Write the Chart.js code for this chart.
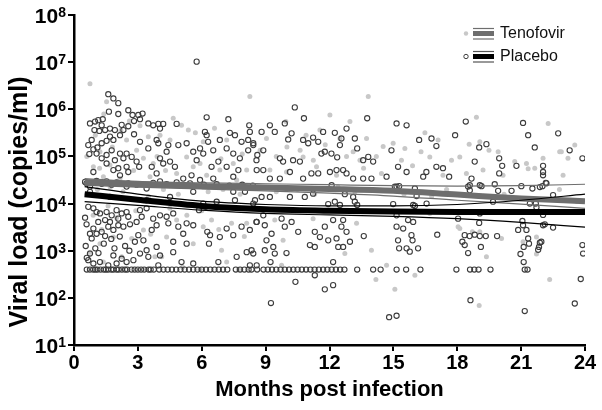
<!DOCTYPE html>
<html>
<head>
<meta charset="utf-8">
<script src="https://cdn.jsdelivr.net/npm/chart.js@4.4.1/dist/chart.umd.min.js"></script>
<style>
  html, body { margin: 0; padding: 0; background: #fff; }
  #wrap { width: 602px; height: 410px; }
</style>
</head>
<body>
<div id="wrap"><canvas id="myChart" width="602" height="410"></canvas></div>
<script>
// months post infection, log10 viral load (copies/ml)
const placeboMonths = [
  1.61,1.85,2.08,1.64,2.08,2.55,2.75,3.02,3.22,3.10,2.82,2.55,0.75,0.99,1.14,1.35,1.30,0.96,1.19,1.46,
  1.69,1.92,2.24,2.32,2.16,2.82,3.49,3.72,3.96,4.19,4.04,4.82,6.23,6.15,6.23,7.25,7.56,7.32,8.23,8.26,
  5.76,0.67,0.83,0.72,0.91,1.10,1.30,1.53,1.69,1.85,1.06,1.30,1.53,1.77,1.53,1.92,2.16,2.32,2.47,2.71,
  2.94,3.06,2.47,2.08,1.85,2.16,2.55,3.10,3.49,3.96,3.88,4.43,4.35,4.04,4.19,4.51,4.74,3.65,3.88,4.90,
  5.29,5.60,5.92,6.07,5.76,6.30,6.54,6.85,7.17,6.78,6.46,7.48,7.79,8.18,8.42,8.61,7.87,8.18,7.17,7.72,
  8.58,5.13,5.52,5.92,6.54,7.48,5.60,7.48,8.03,7.56,8.50,0.91,0.52,0.75,2.47,3.41,
  0.59,1.06,1.30,1.53,1.77,2.00,2.55,2.94,3.72,4.04,4.35,4.82,5.45,6.10,6.70,7.30,7.90,8.40,
  0.75,1.69,3.41,4.51,6.07,6.70,
  0.67,0.91,1.06,0.52,0.59,1.22,1.53,1.77,2.00,2.24,2.47,2.55,2.08,1.69,1.46,1.14,0.91,0.75,0.83,1.06,
  1.30,1.46,1.61,1.85,2.08,2.32,2.63,2.94,3.18,3.10,3.41,3.72,3.88,3.65,4.04,4.35,4.43,4.66,4.90,5.29,
  5.60,5.87,6.18,6.26,6.34,6.85,7.17,7.48,7.87,8.26,8.58,8.11,8.42,8.58,8.26,3.26,3.02,2.86,3.41,3.49,
  3.10,2.79,2.47,2.24,2.00,1.85,1.61,1.22,0.91,0.67,0.75,4.66,5.05,5.60,3.96,4.66,5.29,4.04,3.88,6.78,
  7.64,6.39,5.13,0.55,1.00,1.40,1.75,2.15,2.60,0.60,1.15,2.40,1.90,
  0.60,0.75,0.90,1.00,1.10,1.25,1.40,1.50,1.60,1.75,1.85,2.00,2.10,2.25,2.40,2.50,2.70,2.85,3.00,3.15,
  3.30,3.50,3.60,3.75,4.00,4.20,4.40,4.60,4.80,5.00,5.20,5.40,5.60,5.80,6.00,6.20,6.40,6.60,6.80,7.00,
  7.20,7.60,7.80,8.00,8.20,8.34,8.60,8.90,9.10,9.30,9.50,9.70,9.90,10.10,10.30,10.50,10.70,10.90,11.10,11.30,
  11.50,11.70,11.90,12.10,12.30,12.50,12.70,13.30,14.05,14.40,15.15,15.60,16.27,17.96,18.60,18.80,19.00,19.56,21.17,21.30,
  10.37,10.80,13.77,15.15,15.62,18.40,21.09,22.74,8.81,9.20,9.43,9.90,10.06,10.22,10.76,11.00,11.23,11.47,11.70,12.25,
  12.80,12.56,13.19,13.30,12.49,11.78,11.62,12.09,12.36,12.02,12.33,12.64,12.80,13.11,13.58,13.82,14.05,13.58,13.97,14.68,
  14.91,15.22,15.62,16.21,16.40,16.55,16.79,17.02,17.02,17.33,17.62,17.90,18.67,18.82,19.03,19.37,19.76,19.97,19.97,20.11,
  20.78,21.01,21.33,21.64,22.03,22.03,22.03,22.00,22.19,22.50,23.28,23.88,8.42,8.89,8.57,8.89,9.67,9.82,10.14,10.29,
  10.61,10.76,11.15,11.47,9.20,9.67,8.81,9.20,10.14,10.84,11.23,15.15,16.01,18.51,19.06,19.68,20.55,21.53,21.69,
  12.10,15.07,15.27,16.09,12.72,13.11,13.19,13.30,14.99,16.01,16.56,12.25,12.49,11.94,
  8.42,8.89,8.57,8.96,9.04,9.28,9.36,9.75,9.90,10.22,10.53,9.98,8.96,8.34,9.43,9.23,11.08,11.31,11.55,11.94,
  12.33,12.80,12.96,12.64,12.41,12.17,11.31,11.78,12.17,12.64,12.56,13.61,15.15,15.46,15.69,15.93,15.85,15.90,15.22,15.27,
  15.62,15.77,16.16,15.15,15.93,10.40,11.78,12.17,11.31,9.25,14.80,15.15,
  17.06,18.24,18.35,18.58,18.82,19.06,19.34,19.87,19.11,18.51,19.03,20.86,21.09,21.25,21.33,21.37,21.12,20.97,21.84,21.95,
  22.03,22.50,21.80,23.88,23.91,23.80,23.52,21.12,21.17,18.62,18.04,19.06,22.03,21.06,22.11,18.35,21.88,
  22.16,18.59,19.14,21.88,18.59,19.92,21.41,21.72
];
const placeboLog = [
  6.32,6.23,6.13,5.95,5.90,5.98,5.88,5.88,5.91,5.79,5.75,5.64,5.70,5.74,5.77,5.79,5.66,5.56,5.54,5.56,
  5.59,5.56,5.67,5.56,5.45,5.47,5.70,5.66,5.69,5.69,5.59,5.69,5.83,5.52,5.45,5.79,5.45,5.50,5.66,5.52,
  7.01,5.24,5.35,5.05,5.15,5.19,5.28,5.33,5.42,5.35,5.06,4.96,5.03,5.13,4.85,4.92,5.06,4.96,5.06,4.99,
  4.89,4.78,4.78,4.75,4.71,4.60,4.67,5.31,5.17,5.28,5.35,5.24,5.10,4.96,4.85,4.89,4.78,4.78,4.64,5.24,
  5.28,5.10,5.17,5.06,4.92,5.31,5.13,5.35,5.17,4.89,4.78,5.06,4.96,5.13,5.28,5.03,5.31,5.35,4.78,4.71,
  4.71,4.53,4.60,4.50,4.53,4.57,4.25,4.25,4.25,4.07,4.07,4.67,4.46,4.36,4.36,4.32,
  4.43,4.48,4.42,4.47,4.40,4.45,4.43,4.40,4.44,4.47,4.41,4.45,4.43,4.40,4.41,4.38,4.40,4.38,
  4.25,4.14,4.07,4.14,4.00,4.04,
  3.93,3.90,3.82,3.70,3.56,3.79,3.82,3.75,3.86,3.79,3.82,3.72,3.68,3.61,3.65,3.61,3.47,3.36,3.26,3.36,
  3.40,3.31,3.51,3.44,3.54,3.51,3.56,3.61,3.72,3.86,3.90,3.68,3.54,3.44,3.75,3.72,3.58,3.79,3.51,3.58,
  3.54,3.86,3.93,3.40,3.15,3.29,3.47,3.33,3.51,3.44,3.61,2.97,2.94,2.69,2.69,3.22,3.33,3.19,3.01,2.87,
  2.94,2.80,2.76,2.83,2.73,2.90,2.69,2.76,2.73,2.80,2.94,2.97,2.76,2.73,2.69,3.19,3.15,2.90,3.08,2.76,
  2.87,3.33,3.36,3.10,3.05,3.15,3.25,3.30,3.00,2.85,2.95,3.10,3.05,
  2.6,2.6,2.6,2.6,2.6,2.6,2.6,2.6,2.6,2.6,2.6,2.6,2.6,2.6,2.6,2.6,2.6,2.6,2.6,2.6,
  2.6,2.6,2.6,2.6,2.6,2.6,2.6,2.6,2.6,2.6,2.6,2.6,2.6,2.6,2.6,2.6,2.6,2.6,2.6,2.6,
  2.6,2.6,2.6,2.6,2.6,2.6,2.6,2.6,2.6,2.6,2.6,2.6,2.6,2.6,2.6,2.6,2.6,2.6,2.6,2.6,
  2.6,2.6,2.6,2.6,2.6,2.6,2.6,2.6,2.6,2.6,2.6,2.6,2.6,2.6,2.6,2.6,2.6,2.6,2.6,2.6,
  6.04,5.81,5.81,5.70,5.66,5.74,5.71,5.49,5.52,5.66,5.52,5.70,5.36,5.49,5.35,5.28,5.40,5.31,5.52,5.50,
  5.59,5.38,5.38,5.17,5.24,5.10,5.06,5.06,4.98,4.67,4.71,4.71,4.64,4.53,4.92,4.99,4.89,4.53,4.53,4.57,
  5.13,4.78,4.67,5.35,4.57,4.67,5.38,4.78,5.22,4.75,4.57,5.45,4.53,4.89,5.19,5.26,4.41,4.96,4.64,4.80,
  4.80,4.37,5.45,5.19,4.80,4.67,4.60,4.37,4.43,4.18,5.13,4.96,5.24,5.13,4.92,4.71,4.96,4.89,4.67,4.92,
  4.89,4.53,4.64,4.64,4.53,4.53,4.14,4.14,4.14,4.14,4.21,4.36,4.32,4.36,4.39,4.04,4.27,4.32,4.00,
  4.39,4.36,4.37,4.16,4.20,4.14,4.04,3.97,3.99,3.95,4.00,4.04,3.97,3.99,
  4.00,3.75,3.61,3.54,3.22,3.36,3.08,3.68,3.51,3.61,3.40,2.95,3.01,3.01,2.94,2.76,3.12,3.08,3.29,3.22,
  3.26,3.40,3.19,3.08,3.08,2.76,3.40,3.51,3.65,3.65,3.51,3.31,3.51,3.47,3.65,3.61,3.33,3.22,3.22,3.05,
  3.05,2.98,3.05,3.75,3.97,2.34,2.18,2.27,2.48,1.89,1.59,1.62,
  3.34,3.19,3.33,3.31,3.34,3.31,3.31,3.31,3.08,2.95,3.59,3.44,3.54,3.44,3.26,3.15,3.08,2.93,3.08,3.19,
  3.54,3.49,3.02,3.12,2.94,2.40,1.88,2.76,1.72,1.95,3.68,3.79,3.76,3.63,3.56,3.12,3.17,
  4.44,4.39,4.37,4.35,4.28,4.27,4.00,3.92
];
const tenofovirMonths = [
  0.75,5.05,5.37,4.66,8.26,1.53,4.04,3.26,1.69,3.72,5.92,6.85,2.47,4.51,5.29,7.17,7.48,8.11,2.94,1.22,
  0.91,4.82,6.23,7.64,3.57,1.38,2.16,5.60,6.07,3.49,
  1.00,1.40,1.80,2.20,2.60,0.60,1.20,2.80,3.90,4.30,5.70,6.60,7.90,6.90,3.10,
  0.60,1.10,1.70,2.30,2.90,3.50,4.20,4.90,5.50,6.30,7.00,7.80,8.50,9.50,10.50,11.30,12.40,13.20,14.00,15.50,
  16.80,17.50,20.20,22.80,23.60,
  0.75,1.38,2.24,2.71,3.80,4.12,4.35,6.07,6.46,6.93,7.40,8.11,1.22,1.85,3.26,4.82,5.60,7.17,5.92,7.72,
  1.30,2.00,3.60,4.50,5.30,6.00,6.80,7.50,8.00,0.90,1.60,2.90,5.10,3.40,2.30,1.00,
  13.82,12.02,12.96,18.90,22.27,9.95,9.04,11.55,12.49,13.74,16.48,14.99,15.54,14.52,16.71,17.73,18.12,19.06,19.92,20.70,
  21.25,22.89,23.52,22.97,9.20,9.98,11.39,12.33,13.43,14.44,15.38,17.33,18.43,19.21,20.15,21.64,10.76,13.11,
  22.81,23.20,18.56,19.49,21.33,22.03,18.04,18.71,19.06,19.37,20.08,21.09,21.72,22.34,19.03,
  13.97,14.68,14.18,15.07,16.01,18.12,12.72,9.82,9.43,11.23,13.27,16.71,21.72,9.75,
  10.62,11.24,8.74,10.00,10.90,11.80,12.80,9.50,13.60,14.20,15.90,16.30,17.10
];
const tenofovirLog = [
  6.54,5.66,5.56,5.81,6.27,6.16,5.45,4.96,4.82,4.85,4.85,4.71,5.35,5.35,4.99,5.35,4.85,4.71,5.13,5.10,
  4.78,4.64,4.60,4.50,4.57,4.57,4.53,4.78,5.31,5.42,
  5.45,5.90,5.20,5.55,5.75,5.00,4.75,4.70,5.00,4.70,5.50,5.60,5.05,4.95,5.65,
  4.20,4.30,4.35,4.25,4.40,4.15,4.30,4.20,4.35,4.25,4.30,4.20,4.32,4.25,4.30,4.20,4.35,4.25,4.30,4.20,
  4.15,4.30,4.20,4.30,4.05,
  2.97,2.76,2.87,3.26,2.87,2.87,3.29,3.51,3.65,3.01,3.58,3.58,3.15,3.29,3.44,3.65,3.15,2.76,2.60,2.60,
  3.45,3.70,3.35,3.90,3.75,3.85,3.45,3.90,3.30,3.75,3.95,3.85,2.65,2.60,2.62,2.62,
  6.27,5.88,5.74,5.83,5.70,5.74,5.38,5.56,5.38,5.38,5.50,5.28,5.17,5.21,4.99,4.92,4.99,5.31,5.10,4.89,
  4.85,5.10,5.24,4.60,4.71,4.67,4.78,4.60,4.92,4.64,4.92,4.60,4.64,4.71,4.60,4.75,4.99,5.10,
  5.10,4.96,5.26,5.13,4.74,4.96,3.51,3.40,3.40,2.87,3.26,3.19,2.93,2.39,1.84,
  3.01,2.69,2.39,2.18,2.48,3.47,2.94,3.22,3.65,3.68,3.58,3.79,3.29,2.69,
  5.13,4.92,5.13,5.20,5.45,5.25,5.00,5.00,4.75,5.00,4.80,5.10,5.35
];
// regression fits with 95% bands (log10)
const fitMonths = [0.5, 3, 6, 9, 12, 15, 18, 21, 24];
const tenofovirFit = [4.46, 4.41, 4.37, 4.34, 4.31, 4.27, 4.19, 4.11, 4.05];
const tenofovirUpper = [4.53, 4.47, 4.44, 4.42, 4.40, 4.38, 4.37, 4.38, 4.41];
const tenofovirLower = [4.39, 4.35, 4.31, 4.27, 4.22, 4.16, 4.07, 3.99, 3.90];
const placeboFit = [4.20, 4.08, 3.95, 3.88, 3.85, 3.83, 3.82, 3.82, 3.82];
const placeboUpper = [4.36, 4.20, 4.05, 3.98, 3.95, 3.95, 3.98, 4.07, 4.20];
const placeboLower = [4.04, 3.96, 3.86, 3.79, 3.76, 3.73, 3.68, 3.60, 3.50];

const xTicks = [0, 3, 6, 9, 12, 15, 18, 21, 24];
const yTickExponents = [1, 2, 3, 4, 5, 6, 7, 8];
const seriesNames = ['Tenofovir', 'Placebo'];
const xTitle = 'Months post infection';
const yTitle = 'Viral load (copies/ml)';

const FONT = "Arial, 'Liberation Sans', Helvetica, sans-serif";

function pts(ms, logs) {
  return ms.map((m, i) => ({ x: m, y: Math.pow(10, logs[i]) }));
}

function fitLine(logs, color, width, order) {
  return {
    type: 'line',
    data: pts(fitMonths, logs),
    borderColor: color,
    borderWidth: width,
    pointRadius: 0,
    fill: false,
    cubicInterpolationMode: 'monotone',
    borderCapStyle: 'butt',
    order: order
  };
}

// y tick labels with superscripts, y title and the legend
const decor = {
  id: 'decor',
  afterDraw(chart) {
    const ctx = chart.ctx;
    const ys = chart.scales.y;
    ctx.save();
    ctx.fillStyle = '#000';
    ctx.textBaseline = 'alphabetic';
    ctx.textAlign = 'right';
    yTickExponents.forEach(k => {
      const py = ys.getPixelForValue(Math.pow(10, k));
      ctx.font = 'bold 14px ' + FONT;
      const ew = ctx.measureText(String(k)).width;
      ctx.fillText(String(k), 66, py + 2);
      ctx.font = 'bold 21px ' + FONT;
      ctx.fillText('10', 66 - ew, py + 8);
    });

    ctx.save();
    ctx.translate(20, 202);
    ctx.rotate(-Math.PI / 2);
    ctx.font = 'bold 25px ' + FONT;
    ctx.textAlign = 'center';
    ctx.textBaseline = 'middle';
    ctx.fillText(yTitle, 0, 0);
    ctx.restore();

    // legend
    const rows = [
      { y: 33.5, thin: '#6e6e6e', thick: '#6e6e6e', dot: 'fill' },
      { y: 56.5, thin: '#555', thick: '#000', dot: 'open' }
    ];
    rows.forEach((r, i) => {
      ctx.beginPath();
      ctx.arc(466, r.y, 2.2, 0, Math.PI * 2);
      if (r.dot === 'fill') { ctx.fillStyle = '#c8c8c8'; ctx.fill(); }
      else { ctx.strokeStyle = '#404040'; ctx.lineWidth = 1; ctx.stroke(); }
      ctx.strokeStyle = r.thin; ctx.lineWidth = 1.2;
      ctx.beginPath(); ctx.moveTo(473, r.y - 5); ctx.lineTo(494, r.y - 5); ctx.stroke();
      ctx.beginPath(); ctx.moveTo(473, r.y + 5.5); ctx.lineTo(494, r.y + 5.5); ctx.stroke();
      ctx.strokeStyle = r.thick; ctx.lineWidth = 5;
      ctx.beginPath(); ctx.moveTo(473, r.y); ctx.lineTo(494, r.y); ctx.stroke();
      ctx.fillStyle = '#111';
      ctx.font = '16px ' + FONT;
      ctx.textAlign = 'left';
      ctx.textBaseline = 'middle';
      ctx.fillText(seriesNames[i], 500, r.y);
    });
    ctx.restore();
  }
};

const ctx = document.getElementById('myChart');

new Chart(ctx, {
  type: 'scatter',
  data: {
    datasets: [
      fitLine(placeboFit, '#000', 6, 1),
      fitLine(placeboUpper, '#000', 1.2, 2),
      fitLine(placeboLower, '#000', 1.2, 2),
      fitLine(tenofovirFit, '#6e6e6e', 6, 3),
      fitLine(tenofovirUpper, '#6e6e6e', 1.2, 4),
      fitLine(tenofovirLower, '#6e6e6e', 1.2, 4),
      {
        label: seriesNames[1],
        data: pts(placeboMonths, placeboLog),
        pointRadius: 2.6,
        borderWidth: 1.1,
        borderColor: '#3c3c3c',
        backgroundColor: 'rgba(255,255,255,0)',
        order: 10
      },
      {
        label: seriesNames[0],
        data: pts(tenofovirMonths, tenofovirLog),
        pointRadius: 2.5,
        borderWidth: 0,
        backgroundColor: '#c8c8c8',
        order: 11
      }
    ]
  },
  options: {
    responsive: false,
    animation: false,
    events: [],
    layout: { padding: { left: 0, right: 17, top: 15, bottom: 0 } },
    plugins: { legend: { display: false }, tooltip: { enabled: false } },
    scales: {
      x: {
        type: 'linear',
        min: 0,
        max: 24,
        afterBuildTicks: s => { s.ticks = xTicks.map(v => ({ value: v })); },
        afterFit: s => { s.height = 65; },
        ticks: { font: { family: FONT, size: 20, weight: 'bold' }, color: '#000', padding: 0, maxRotation: 0 },
        grid: { drawOnChartArea: false, drawTicks: true, tickLength: 6, color: '#000', lineWidth: 2 },
        border: { color: '#000', width: 2.5 },
        title: {
          display: true,
          text: xTitle,
          color: '#000',
          font: { family: FONT, size: 22, weight: 'bold' },
          padding: { top: 0, bottom: 7 }
        }
      },
      y: {
        type: 'logarithmic',
        min: 10,
        max: 1e8,
        afterBuildTicks: s => { s.ticks = yTickExponents.map(k => ({ value: Math.pow(10, k) })); },
        afterFit: s => { s.width = 74; },
        ticks: { display: false },
        grid: { drawOnChartArea: false, drawTicks: true, tickLength: 6, color: '#000', lineWidth: 2 },
        border: { color: '#000', width: 2.5 }
      }
    }
  },
  plugins: [decor]
});
</script>
</body>
</html>
